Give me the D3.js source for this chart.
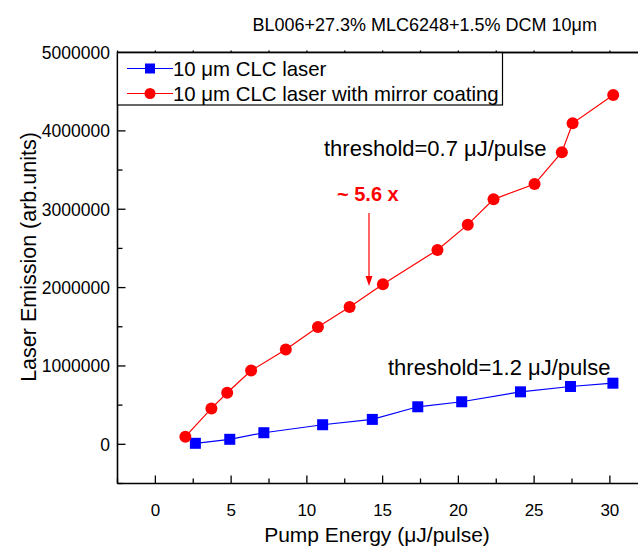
<!DOCTYPE html>
<html><head><meta charset="utf-8">
<script src="https://cdn.jsdelivr.net/npm/d3@7"></script>
<style>body{margin:0;background:#fff}svg{display:block}text{font-family:Arial,"Liberation Sans",sans-serif}</style>
</head><body>
<script>
const pumpCLC = [2.64, 4.91, 7.16, 11.04, 14.32, 17.32, 20.22, 24.1, 27.4, 30.2];
const emisCLC = [13000, 64000, 148000, 250000, 318000, 479000, 543000, 670000, 738000, 780000];
const pumpMirror = [1.98, 3.70, 4.74, 6.32, 8.61, 10.73, 12.82, 15.02, 18.62, 20.62, 22.32, 25.03, 26.83, 27.54, 30.22];
const emisMirror = [98000, 458000, 658000, 941000, 1209000, 1497000, 1751000, 2044000, 2481000, 2803000, 3126000, 3321000, 3728000, 4096000, 4457000];
const xTicks = [0, 5, 10, 15, 20, 25, 30];
const yTicks = [0, 1000000, 2000000, 3000000, 4000000, 5000000];
const seriesNames = ["10 \u03BCm CLC laser", "10 \u03BCm CLC laser with mirror coating"];
const titleText = "BL006+27.3% MLC6248+1.5% DCM 10\u03BCm";

const W = 638, H = 547;
const svg = d3.select("body").append("svg").attr("width", W).attr("height", H);
const x = d3.scaleLinear().domain([-2.5, 32]).range([117.5, 117.5 + 34.5 * 15.15]);
const y = d3.scaleLinear().domain([-500000, 5000000]).range([483.5, 52.5]);
const X0 = 117.5, Y0 = 483.5, YT = 52.5;

// title
svg.append("text").attr("x", 597).attr("y", 31).attr("text-anchor", "end")
  .attr("font-size", 18).text(titleText);

// axes frame
const ax = svg.append("g").attr("stroke", "#000").attr("stroke-width", 1.6);
ax.append("line").attr("x1", X0).attr("x2", X0).attr("y1", YT).attr("y2", Y0);
ax.append("line").attr("x1", X0).attr("x2", W).attr("y1", Y0).attr("y2", Y0);
ax.append("line").attr("x1", X0).attr("x2", W).attr("y1", YT).attr("y2", YT);

// x ticks (major + minor) inward
const xMinor = d3.range(-2.5, 32.01, 2.5);
xMinor.forEach(v => {
  const major = Math.abs(v % 5) < 1e-9;
  ax.append("line").attr("x1", x(v)).attr("x2", x(v)).attr("y1", Y0).attr("y2", Y0 - (major ? 8 : 5)).attr("stroke-width", 1.3);
  ax.append("line").attr("x1", x(v)).attr("x2", x(v)).attr("y1", YT).attr("y2", YT - 2).attr("stroke-width", 1.3);
});
xTicks.forEach(v => {
  svg.append("text").attr("x", x(v)).attr("y", 516).attr("text-anchor", "middle").attr("font-size", 17).text(v);
});
// y ticks
d3.range(-500000, 5000001, 500000).forEach(v => {
  const major = v % 1000000 === 0;
  if (v === 5000000) return;
  ax.append("line").attr("x1", X0).attr("x2", X0 + (major ? 8 : 5)).attr("y1", y(v)).attr("y2", y(v)).attr("stroke-width", 1.3);
});
yTicks.forEach(v => {
  svg.append("text").attr("x", 110).attr("y", y(v)).attr("dy", "0.36em").attr("text-anchor", "end").attr("font-size", 17.5).text(v);
});

// axis titles
svg.append("text").attr("x", 377).attr("y", 542).attr("text-anchor", "middle").attr("font-size", 21).text("Pump Energy (\u03BCJ/pulse)");
svg.append("text").attr("transform", "translate(36,257) rotate(-90)").attr("text-anchor", "middle").attr("font-size", 21.5).text("Laser Emission (arb.units)");

// series
const line = d3.line().x(d => x(d[0])).y(d => y(d[1]));
const blueData = pumpCLC.map((p, i) => [p, emisCLC[i]]);
const redData = pumpMirror.map((p, i) => [p, emisMirror[i]]);
svg.append("path").datum(blueData).attr("d", line).attr("fill", "none").attr("stroke", "#0000ff").attr("stroke-width", 1.2);
svg.append("path").datum(redData).attr("d", line).attr("fill", "none").attr("stroke", "#ff0000").attr("stroke-width", 1.2);
svg.selectAll("rect.pt").data(blueData).join("rect").attr("class", "pt")
  .attr("x", d => x(d[0]) - 5.5).attr("y", d => y(d[1]) - 5.5).attr("width", 11).attr("height", 11).attr("fill", "#0000ff");
svg.selectAll("circle.pt").data(redData).join("circle").attr("class", "pt")
  .attr("cx", d => x(d[0])).attr("cy", d => y(d[1])).attr("r", 6).attr("fill", "#ff0000");

// annotations
svg.append("text").attr("x", 324).attr("y", 156).attr("font-size", 22).text("threshold=0.7 \u03BCJ/pulse");
svg.append("text").attr("x", 388).attr("y", 375).attr("font-size", 22).text("threshold=1.2 \u03BCJ/pulse");
svg.append("text").attr("x", 337).attr("y", 201).attr("font-size", 20).attr("font-weight", "bold").attr("fill", "#ff0000").text("~ 5.6 x");
svg.append("line").attr("x1", 369).attr("x2", 369).attr("y1", 213).attr("y2", 278).attr("stroke", "#ff0000").attr("stroke-width", 1.2);
svg.append("path").attr("d", "M365.5,276 L372.5,276 L369,286 Z").attr("fill", "#ff0000");

// legend
const lg = svg.append("g");
lg.append("rect").attr("x", X0).attr("y", YT).attr("width", 385).attr("height", 52.5).attr("fill", "#fff").attr("stroke", "#000").attr("stroke-width", 1.2);
const rows = [{name: seriesNames[0], c: "#0000ff", yy: 68.5, m: "sq"}, {name: seriesNames[1], c: "#ff0000", yy: 93.5, m: "ci"}];
rows.forEach(r => {
  lg.append("line").attr("x1", 127).attr("x2", 173).attr("y1", r.yy).attr("y2", r.yy).attr("stroke", r.c).attr("stroke-width", 1.2);
  if (r.m === "sq") lg.append("rect").attr("x", 145).attr("y", r.yy - 5).attr("width", 10).attr("height", 10).attr("fill", r.c);
  else lg.append("circle").attr("cx", 150).attr("cy", r.yy).attr("r", 5.5).attr("fill", r.c);
  lg.append("text").attr("x", 173).attr("y", r.yy + 7.5).attr("font-size", 20.4).text(r.name);
});
// top axis line drawn over legend edge
svg.append("line").attr("x1", X0).attr("x2", W).attr("y1", YT).attr("y2", YT).attr("stroke", "#000").attr("stroke-width", 1.6);
</script>
</body></html>
